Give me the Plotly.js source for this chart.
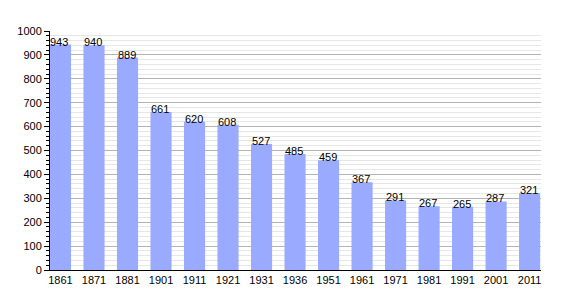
<!DOCTYPE html>
<html><head><meta charset="utf-8">
<script src="https://cdn.plot.ly/plotly-3.0.1.min.js"></script>
<style>html,body{margin:0;padding:0;background:#fff}#c{width:570px;height:300px}</style>
</head><body><div id="c"></div>
<script>
const years = ["1861","1871","1881","1901","1911","1921","1931","1936","1951","1961","1971","1981","1991","2001","2011"];
const population = [943,940,889,661,620,608,527,485,459,367,291,267,265,287,321];

const idx = years.map((_, i) => i);
const annotations = population.map((v, i) => ({
  x: i, y: v, text: String(v), showarrow: false,
  xanchor: 'center', yanchor: 'bottom', yshift: -5, xshift: -1,
  font: {family: 'Liberation Sans, Arial, sans-serif', size: 11, color: '#000'}
}));

Plotly.newPlot('c', [{
  type: 'bar', x: idx, y: population, width: 0.63,
  marker: {color: '#99aaff', line: {width: 0}},
  hoverinfo: 'none'
}], {
  width: 570, height: 300,
  margin: {l: 50, r: 29, t: 31, b: 30, pad: 0},
  paper_bgcolor: '#fff', plot_bgcolor: '#fff',
  showlegend: false,
  font: {family: 'Liberation Sans, Arial, sans-serif', size: 11, color: '#000'},
  xaxis: {
    range: [-0.313, 14.34], tickvals: idx, ticktext: years,
    showgrid: false, zeroline: false, showline: true, linecolor: '#000', linewidth: 1,
    ticks: '', tickfont: {size: 11}, fixedrange: true
  },
  yaxis: {
    range: [0, 1000], dtick: 100, tick0: 0,
    showgrid: true, gridcolor: '#b3b3b3', gridwidth: 1,
    zeroline: false, showline: true, linecolor: '#000', linewidth: 1,
    ticks: 'outside', ticklen: 5, tickcolor: '#000', tickfont: {size: 11},
    minor: {dtick: 20, showgrid: true, gridcolor: '#e6e6e6', gridwidth: 1, ticks: 'outside', ticklen: 3, tickcolor: '#000'},
    fixedrange: true
  },
  annotations: annotations
}, {displayModeBar: false, staticPlot: true});
</script></body></html>
